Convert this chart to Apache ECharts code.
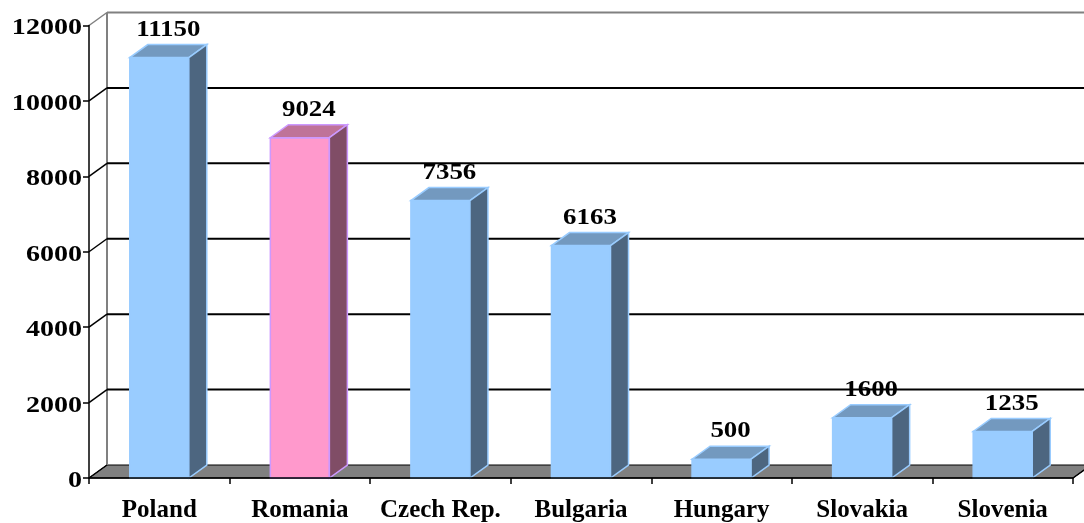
<!DOCTYPE html>
<html>
<head>
<meta charset="utf-8">
<script src="https://cdn.jsdelivr.net/npm/echarts@6/dist/echarts.min.js"></script>
<style>
  html, body { margin: 0; padding: 0; background: #fff; }
  #chart { width: 1084px; height: 523px; }
</style>
</head>
<body>
<div id="chart"></div>
<script>
// data
var countries = ['Poland', 'Romania', 'Czech Rep.', 'Bulgaria', 'Hungary', 'Slovakia', 'Slovenia'];
var amounts = [11150, 9024, 7356, 6163, 500, 1600, 1235];
var yTicks = [0, 2000, 4000, 6000, 8000, 10000, 12000];
var highlight = 'Romania';

// 3d depth offset (px)
var DX = 18, DY = 13;
var font = 'Liberation Serif, Times New Roman, serif';

var myChart = echarts.init(document.getElementById('chart'));

// back wall, gridlines, floor + y labels (digits drawn a bit wide like the original)
function renderWall(params, api) {
    var cs = params.coordSys;
    var v = api.value(0);
    var y = api.coord([0, v])[1];
    var x0 = cs.x;
    var kids = [];
    var top = v === yTicks[yTicks.length - 1];
    var col = top ? '#808080' : '#000';
    if (v === 0) {
        kids.push({
            type: 'polygon',
            shape: { points: [[x0, y], [x0 + cs.width, y], [x0 + cs.width + DX, y - DY], [x0 + DX, y - DY]] },
            style: { fill: '#808080', stroke: '#000', lineWidth: 1 }
        });
        // left wall edge
        kids.push({
            type: 'line',
            shape: { x1: x0 + DX, y1: y - DY, x2: x0 + DX, y2: cs.y - DY },
            style: { stroke: '#808080', lineWidth: 2 }
        });
        kids.push({
            type: 'line',
            shape: { x1: x0 + cs.width, y1: y, x2: x0 + cs.width + DX, y2: y - DY },
            style: { stroke: '#000', lineWidth: 1.5 }
        });
    } else {
        kids.push({
            type: 'line',
            shape: { x1: x0 + DX, y1: y - DY, x2: x0 + cs.width + DX, y2: y - DY },
            style: { stroke: col, lineWidth: 2 }
        });
    }
    kids.push({
        type: 'line',
        shape: { x1: x0, y1: y, x2: x0 + DX, y2: y - DY },
        style: { stroke: col, lineWidth: 1.5 }
    });
    kids.push({
        type: 'text',
        x: x0 - 7,
        y: y + 3,
        scaleX: 1.22,
        style: {
            text: String(v),
            textAlign: 'right',
            textVerticalAlign: 'middle',
            font: 'bold 23px ' + font,
            fill: '#000'
        }
    });
    return { type: 'group', children: kids };
}

function renderBar(params, api) {
    var i = api.value(0), v = api.value(1);
    var p = api.coord([i, v]);
    var base = api.coord([i, 0])[1];
    var w = api.size([1, 0])[0] * 0.42;
    var l = p[0] - w / 2, r = p[0] + w / 2, t = p[1];
    var pink = countries[i] === highlight;
    var front = pink ? '#FF99CC' : '#99CCFF';
    var topc = pink ? '#BF7399' : '#7399BF';
    var side = pink ? '#804D66' : '#4D6680';
    var edge = pink ? '#CC99FF' : '#99CCFF';
    return {
        type: 'group',
        children: [
            {
                type: 'rect',
                shape: { x: l, y: t, width: w, height: base - t },
                style: { fill: front, stroke: edge, lineWidth: 1.5 }
            },
            {
                type: 'polygon',
                shape: { points: [[l, t], [r, t], [r + DX, t - DY], [l + DX, t - DY]] },
                style: { fill: topc, stroke: edge, lineWidth: 1.5 }
            },
            {
                type: 'polygon',
                shape: { points: [[r, t], [r + DX, t - DY], [r + DX, base - DY], [r, base]] },
                style: { fill: side, stroke: edge, lineWidth: 1.5 }
            },
            {
                type: 'text',
                x: p[0] + DX / 2,
                y: t - DY - 3,
                scaleX: 1.12,
                style: {
                    text: String(v),
                    textAlign: 'center',
                    textVerticalAlign: 'bottom',
                    font: 'bold 24px ' + font,
                    fill: '#000'
                }
            }
        ]
    };
}

var option = {
    animation: false,
    grid: { left: 89, right: 11, top: 25.5, bottom: 45 },
    xAxis: {
        type: 'category',
        data: countries,
        z: 10,
        axisLine: { lineStyle: { color: '#000', width: 1.5 } },
        axisTick: { show: true, interval: 0, length: 6, lineStyle: { color: '#000', width: 1.5 } },
        axisLabel: { interval: 0, margin: 20, color: '#000', fontFamily: font, fontWeight: 'bold', fontSize: 25 },
        splitLine: { show: false }
    },
    yAxis: {
        type: 'value',
        min: 0,
        max: 12000,
        interval: 2000,
        z: 10,
        axisLine: { show: true, lineStyle: { color: '#000', width: 1.5 } },
        axisTick: { show: true, length: 6, lineStyle: { color: '#000', width: 1.5 } },
        axisLabel: { show: false },
        splitLine: { show: false }
    },
    series: [
        {
            type: 'custom',
            renderItem: renderWall,
            data: yTicks.map(function (t) { return [t]; }),
            encode: { y: 0 },
            clip: false,
            z: 1,
            silent: true
        },
        {
            type: 'custom',
            renderItem: renderBar,
            data: amounts.map(function (a, i) { return [i, a]; }),
            encode: { x: 0, y: 1 },
            clip: false,
            z: 5
        }
    ]
};
myChart.setOption(option);
window.addEventListener('resize', function () {
    myChart.resize();
});
</script>
</body>
</html>
